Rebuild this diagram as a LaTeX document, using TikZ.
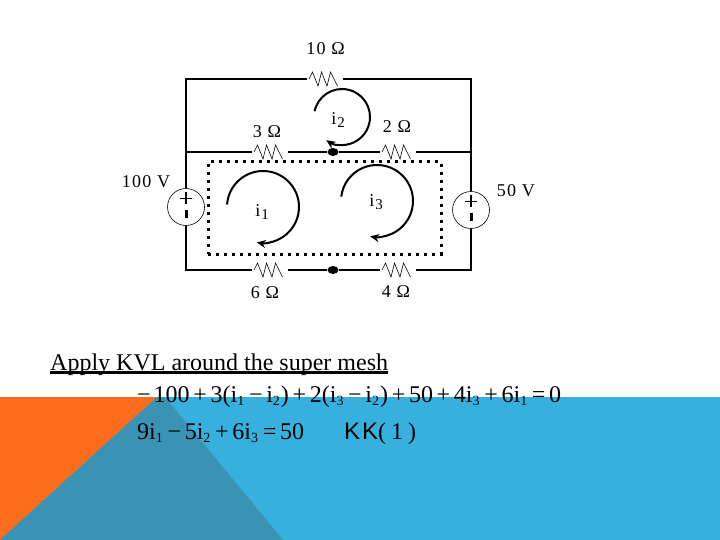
\documentclass[tikz,border=0pt]{standalone}
\usepackage{fontspec}
\setmainfont{Liberation Serif}
\newfontfamily\labelfont[LetterSpace=7]{Liberation Serif}
\newfontfamily\keyfont[LetterSpace=8]{Liberation Sans}
\definecolor{slideblue}{HTML}{38B0DE}
\definecolor{slideorange}{HTML}{FB6D1D}
\definecolor{slideteal}{HTML}{3A93B5}
\newcommand{\cur}[1]{i\raisebox{-3pt}{\fontsize{14}{14}\selectfont #1}\kern1pt}
\newcommand{\lcur}[1]{i\kern1pt\raisebox{-2.5pt}{\fontsize{15}{15}\selectfont #1}}
\newcommand{\op}[1]{\kern3.7pt#1\kern3.7pt}
\tikzset{
  wire/.style={draw, line width=1.5pt},
  val/.style={font=\labelfont\fontsize{18}{18}\selectfont, inner sep=0pt},
  eqn/.style={font=\fontsize{24}{24}\selectfont, anchor=base west, inner sep=0pt},
  resistor/.style={minimum width=36pt, minimum height=16pt, inner sep=0pt, path picture={
    \draw[line width=0.6pt] ([shift={(-16pt,0pt)}]path picture bounding box.center)
      -- ++(3.5pt,7pt) -- ++(5.5pt,-14pt) -- ++(3.5pt,14pt) -- ++(5.5pt,-14pt)
      -- ++(3.5pt,14pt) -- ++(7pt,-14pt);}},
  source/.style={draw, circle, line width=0.6pt, minimum size=37pt, inner sep=0pt, path picture={
    \draw[line width=1.8pt] ([shift={(-6pt,8.5pt)}]path picture bounding box.center) -- ++(12pt,0pt);
    \draw[line width=1.8pt] ([shift={(0pt,14.5pt)}]path picture bounding box.center) -- ++(0pt,-12pt);
    \draw[line width=3pt] ([shift={(0pt,-3.5pt)}]path picture bounding box.center) -- ++(0pt,-7.5pt);}},
  joint/.style={fill, ellipse, minimum width=11pt, minimum height=8pt, inner sep=0pt},
  loopcur/.style={line width=2pt, -{Stealth[length=9pt,width=8pt]}}
}
\usetikzlibrary{arrows.meta,shapes.geometric}
\begin{document}
\begin{tikzpicture}[x=1pt,y=-1pt]
\useasboundingbox (0,0) rectangle (720,540);
\fill[white] (0,0) rectangle (720,540);
\fill[slideblue] (0,397) rectangle (720,540);
\fill[slideorange] (0,397) -- (157,397) -- (0,540) -- cycle;
\fill[slideteal] (157,397) -- (165,397) -- (283,540) -- (0,540) -- cycle;
% corners
\coordinate (tl) at (186,79);
\coordinate (tr) at (471,79);
\coordinate (ml) at (186,152);
\coordinate (mr) at (471,152);
\coordinate (bl) at (186,270);
\coordinate (br) at (471,270);
% parts
\node[resistor] (r10) at (325,79) {};
\node[resistor] (r3) at (270,152) {};
\node[resistor] (r2) at (398,152) {};
\node[resistor] (r6) at (270,270) {};
\node[resistor] (r4) at (398,270) {};
\node[source] (v100) at (186,207) {};
\node[source] (v50) at (471,210) {};
\node[joint] (ja) at (333,152) {};
\node[joint] (jb) at (333,270) {};
% wires
\draw[wire] (r10) -- (tl) -- (ml) -- (v100);
\draw[wire] (r10) -- (tr) -- (mr) -- (v50);
\draw[wire] (ml) -- (r3) -- (ja) -- (r2) -- (mr);
\draw[wire] (v100) -- (bl) -- (r6) -- (jb) -- (r4) -- (br) -- (v50);
% super mesh
\node[draw, line width=3pt, dash pattern=on 3pt off 5pt, minimum width=233pt, minimum height=92pt, inner sep=0pt] (super) at (324.5,208) {};
% loop currents
\coordinate (c1) at (263,207);
\coordinate (c2) at (342,117);
\coordinate (c3) at (377,201);
\draw[loopcur] (c1) ++(176:36pt) arc[start angle=176, end angle=-100, radius=36pt];
\draw[loopcur] (c2) ++(168:28pt) arc[start angle=168, end angle=-124, radius=28pt];
\draw[loopcur] (c3) ++(173:36pt) arc[start angle=173, end angle=-101, radius=36pt];
% labels
\node[val] (l10) at (325.5,49) {10 Ω};
\node[val] (l3) at (267,132) {3 Ω};
\node[val] (l2) at (397,127) {2 Ω};
\node[val] (l6) at (265,293) {6 Ω};
\node[val] (l4) at (396,292) {4 Ω};
\node[val] (l100) at (146,182) {100 V};
\node[val] (l50) at (516,191) {50 V};
\node[val] (i1) at (262,212) {\lcur{1}};
\node[val] (i2) at (338,120) {\lcur{2}};
\node[val] (i3) at (376,202) {\lcur{3}};
% text
\node[eqn] (title) at (50,370) {Apply KVL around the super mesh};
\draw[line width=3pt] ([yshift=-2.5pt]title.base west) -- ([yshift=-2.5pt]title.base east);
\node[eqn] (eq1) at (137,402) {−\kern3pt 100\op{+}3(\cur{1}\op{−}\cur{2})\op{+}2(\cur{3}\op{−}\cur{2})\op{+}50\op{+}4\cur{3}\op{+}6\cur{1}\op{=}0};
\node[eqn] (eq2) at (137,439) {9\cur{1}\op{−}5\cur{2}\op{+}6\cur{3}\op{=}50};
\node[eqn] (eq3) at (344,439) {{\keyfont KK}(\kern5pt 1\kern5pt)};
\end{tikzpicture}
\end{document}
